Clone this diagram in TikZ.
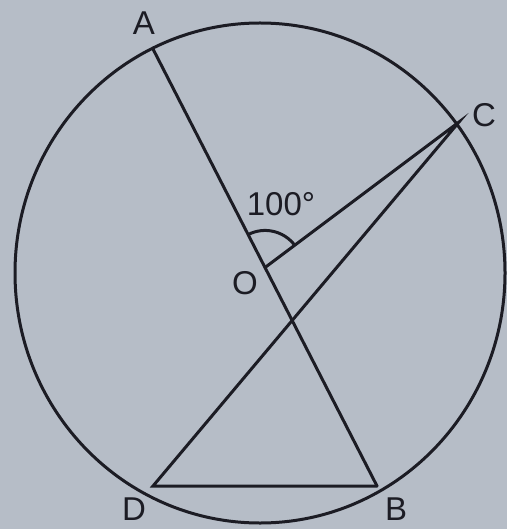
\documentclass[tikz,border=0pt]{standalone}
\usepackage{fontspec}
\setmainfont{Liberation Sans}
\usetikzlibrary{calc}
\definecolor{paper}{RGB}{182,189,199}
\definecolor{ink}{RGB}{28,28,36}
\begin{document}
\begin{tikzpicture}[x=1pt,y=-1pt,
  geo/.style={draw=ink,line width=3pt},
  lbl/.style={text=ink,font=\fontsize{33}{38}\selectfont,inner sep=0pt}]
\fill[paper] (0,0) rectangle (507,529);
\useasboundingbox (0,0) rectangle (507,529);
\coordinate (Z) at (260,273);
\coordinate (A) at ($(Z)+(-107,-224)$);
\coordinate (B) at ($(Z)+(117,213)$);
\coordinate (C) at ($(Z)+(199,-151)$);
\coordinate (D) at ($(Z)+(-107,213)$);
\coordinate (O) at ($(A)!0.5!(B)$);
\draw[geo] (Z) ellipse [x radius=245pt, y radius=250pt];
\draw[geo,line cap=round] (A) -- (B);
\draw[geo,line cap=round] (O) -- (C) -- (D) -- (B);
\draw[geo] ($(O)!37pt!(A)$) arc [start angle=117.3, end angle=36.9, radius=37pt];
\node[lbl] (lA) at (144,23) {A};
\node[lbl] (lC) at (484,115) {C};
\node[lbl] (lD) at (134,509) {D};
\node[lbl] (lB) at (396,509) {B};
\node[lbl] (lO) at (245,283) {O};
\node[lbl] (lang) at (281,204) {100°};
\end{tikzpicture}
\end{document}
